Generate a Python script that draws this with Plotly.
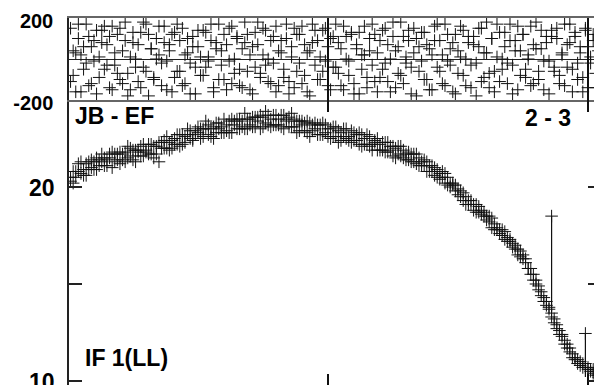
import plotly.graph_objects as go

# channel numbers (1..204) shared by both panels
channels = list(range(1, 205))

# amplitude per channel, two samples each
amplitude_a = [
    20.5, 20.2, 20.8, 21.2, 20.7, 20.9, 20.6, 21.3, 21.0, 21.3,
    20.9, 21.4, 21.7, 21.1, 21.4, 21.7, 21.0, 21.7, 21.4, 21.8,
    21.7, 21.3, 22.1, 21.6, 21.9, 21.3, 21.9, 22.1, 21.6, 21.9,
    21.7, 22.2, 21.5, 22.1, 21.3, 22.3, 22.0, 22.6, 21.9, 22.4,
    22.5, 22.2, 22.7, 22.2, 22.6, 23.0, 22.5, 22.4, 22.9, 22.8,
    22.5, 23.0, 23.4, 22.7, 23.0, 22.5, 23.3, 23.0, 22.8, 23.5,
    23.2, 22.8, 23.5, 23.2, 23.0, 23.5, 23.1, 23.8, 23.0, 23.5,
    23.1, 23.6, 23.4, 23.0, 23.6, 23.9, 23.2, 23.5, 23.2, 23.7,
    23.5, 23.1, 23.7, 23.5, 23.1, 23.8, 23.1, 22.8, 23.4, 23.2,
    22.9, 23.4, 22.6, 23.2, 23.0, 23.2, 22.7, 23.3, 22.8, 22.6,
    23.0, 22.6, 23.1, 22.3, 22.8, 23.0, 22.5, 22.6, 22.3, 22.8,
    22.4, 22.8, 22.1, 22.5, 22.7, 22.1, 22.2, 22.4, 21.9, 22.2,
    22.3, 21.8, 22.3, 21.9, 21.6, 22.0, 21.7, 22.1, 21.5, 21.7,
    21.4, 21.7, 21.3, 21.7, 21.1, 21.3, 21.4, 20.8, 21.1, 20.8,
    21.0, 20.5, 20.7, 20.5, 20.7, 20.1, 20.2, 20.2, 19.8, 19.9,
    19.5, 19.7, 19.1, 19.3, 19.1, 18.8, 19.1, 18.7, 18.8, 18.5,
    18.5, 18.2, 18.4, 17.8, 17.9, 17.8, 17.5, 17.7, 17.2, 17.2,
    17.1, 16.8, 16.8, 16.4, 16.5, 16.1, 15.8, 15.8, 15.2, 15.2,
    14.7, 14.6, 14.1, 14.1, 13.7, 13.3, 13.2, 12.7, 12.6, 12.3,
    12.1, 11.7, 11.7, 11.2, 11.1, 11.1, 10.8, 10.9, 10.7, 10.7,
    10.5, 10.6, 10.3, 10.3,
]
amplitude_b = [
    20.3, 20.8, 20.5, 20.8, 21.3, 20.6, 21.2, 20.9, 21.4, 20.9,
    21.5, 21.1, 21.3, 21.5, 21.1, 21.5, 21.8, 21.3, 21.7, 21.2,
    21.4, 21.8, 21.5, 22.0, 21.4, 21.9, 21.8, 21.6, 22.2, 21.8,
    22.2, 21.7, 22.1, 21.7, 22.3, 22.0, 22.4, 22.0, 22.3, 22.0,
    22.2, 22.7, 22.1, 22.7, 22.3, 22.7, 22.9, 22.5, 22.7, 23.1,
    23.0, 22.6, 23.0, 23.2, 22.6, 23.1, 22.8, 23.3, 23.1, 22.8,
    22.9, 23.4, 22.8, 23.4, 23.5, 23.0, 23.4, 23.0, 23.5, 23.2,
    23.6, 23.1, 23.6, 23.7, 23.1, 23.3, 23.7, 23.1, 23.7, 23.2,
    23.2, 23.7, 23.0, 23.4, 23.6, 23.1, 23.5, 23.4, 22.9, 23.4,
    23.3, 22.8, 23.3, 22.9, 23.3, 22.7, 23.2, 22.7, 23.2, 23.0,
    22.5, 23.1, 22.6, 22.9, 22.4, 22.6, 23.0, 22.4, 22.9, 22.4,
    22.7, 22.2, 22.7, 22.2, 22.2, 22.6, 21.9, 22.3, 22.5, 21.9,
    21.9, 22.3, 21.8, 22.1, 22.1, 21.5, 22.1, 21.6, 21.9, 21.4,
    21.8, 21.3, 21.7, 21.2, 21.5, 21.1, 21.1, 21.3, 20.8, 21.1,
    20.6, 20.9, 20.4, 20.8, 20.2, 20.5, 20.0, 20.1, 20.1, 19.6,
    19.8, 19.3, 19.5, 19.1, 19.3, 19.1, 18.7, 19.0, 18.6, 18.7,
    18.3, 18.5, 17.9, 18.1, 17.8, 17.6, 17.8, 17.3, 17.4, 17.3,
    16.9, 17.0, 16.5, 16.7, 16.3, 16.3, 15.8, 15.5, 15.5, 15.0,
    14.9, 14.4, 14.3, 13.9, 13.8, 13.5, 13.0, 12.9, 12.4, 12.4,
    11.9, 11.9, 11.5, 11.4, 11.2, 10.9, 11.0, 10.7, 10.9, 10.6,
    10.6, 10.4, 10.5, 10.2,
]

# two outlying amplitude points with long lower error bars
spike_channels = [186, 199]
spike_values = [18.5, 12.45]
spike_err_low = [4.9, 2.25]

# phase (degrees), two samples per channel
phase_a = [
    150, -80, 30, 170, -160, 60, -20, 110, -120, 90, -170, 10, 140, -50, 70, -140, 160,
    -30, 120, -100, 40, 180, -70, -150, 80, 0, -110, 130, -40, 170, -180, 50, -90, 100,
    20, -130, 160, -10, 70, -160, 130, -60, 90, 150, -120, 30, -20, 110, -170, 60, -80,
    140, -40, 10, 170, -140, 80, -100, 40, 120, -150, -10, 160, -70, 100, -130, 50, 180,
    -60, 20, -170, 130, 70, -90, 150, -30, 0, -120, 110, -160, 40, 90, -50, 170, -110,
    60, -140, 120, -20, 160, -80, 30, -180, 80, 140, -100, 10, -60, 150, -130, 100, -40,
    170, -70, 50, -150, 110, -10, 130, -120, 70, -170, 20, 160, -90, 40, -30, 120, -160,
    90, -50, 150, -110, 0, 180, -140, 60, -80, 110, -20, 140, -170, 30, 100, -60, 130,
    -100, 70, -150, 20, 160, -40, 90, -120, 170, -10, 50, -160, 120, -70, 10, 140, -130,
    80, -30, 110, -180, 60, 150, -90, 30, -140, 100, -60, 170, -110, 0, 130, -20, 90,
    -170, 40, 160, -80, 120, -50, 20, -130, 70, 180, -100, 50, -150, 110, -10, 140, -60,
    100, -120, 30, 170, -40, 80, -160, 130, -20, 60, -90, 150, -140, 10, 120, -70, 40,
]
phase_b = [
    -110, 40, -160, 100, 20, -50, 170, -130, 60, -10, 140, -90, 80, 160, -30, 110, -150,
    30, -70, 150, -120, 90, -180, 10, 130, -40, 70, -140, 180, -60, 120, 50, -100, 0,
    160, -20, 80, -150, 40, 120, -90, 170, -60, -130, 20, 100, -170, 60, -40, 140, 10,
    -80, 130, -10, 90, -160, 50, 170, -30, -100, 70, 150, -120, 0, 110, -50, -140, 80,
    120, -150, 60, -40, 180, -70, 20, 140, -110, 90, -20, 160, -130, 30, -90, 100, -170,
    10, 150, -60, 120, -120, 70, -160, 40, 170, -30, 90, -100, 140, -10, 60, -150, 110,
    -40, 80, -130, 160, 0, -80, 120, -170, 50, 130, -50, 20, -140, 100, 170, -110, 30,
    -90, 140, -20, 70, -160, 110, 40, -70, 180, -120, 10, 90, -40, 150, -180, 60, -10,
    130, -100, 50, -150, 90, 170, -60, 20, -130, 120, -30, 80, -170, 40, 160, -80, 0,
    110, -140, 70, -20, 150, -110, 30, 180, -70, 100, -160, 10, 130, -50, 60, -120, 170,
    -30, 90, -150, 40, 120, -90, 0, 160, -120, 50, -60, 140, -10, 80, -170, 110, -40,
    150, -80, 20, -130, 70, 170, -50, 110, -100, 30, -160, 140, 60, -20, 90, -140, 120,
]

amp_ticks = [10, 15, 20]
amp_ticktext = ["10", "", "20"]
phase_ticks = [-200, 200]
channel_ticks = [100, 200]

INK = "#111"
mark = dict(symbol="cross-thin-open", size=9, color=INK, line=dict(width=1, color=INK))
FONT = "Liberation Sans"

fig = go.Figure()

# phase panel
for ph in (phase_a, phase_b):
    fig.add_trace(go.Scatter(x=channels, y=ph, mode="markers", marker=mark,
                             xaxis="x2", yaxis="y2", showlegend=False))

# amplitude panel
for amp in (amplitude_a, amplitude_b):
    fig.add_trace(go.Scatter(x=channels, y=amp, mode="markers", marker=mark,
                             showlegend=False))
fig.add_trace(go.Scatter(
    x=spike_channels, y=spike_values, mode="markers", marker=mark, showlegend=False,
    error_y=dict(type="data", symmetric=False, array=[0, 0], arrayminus=spike_err_low,
                 width=0, thickness=1.2, color=INK),
))

split = 1 - 82 / 367

# the page body adds an 8px margin, so the figure is 8px smaller than the window
fig.update_layout(
    width=594, height=377,
    margin=dict(l=61, r=1, t=10, b=0, autoexpand=False),
    paper_bgcolor="white", plot_bgcolor="white",
    font=dict(family=FONT, color="black"),
    xaxis=dict(
        domain=[0, 1], anchor="y", range=[0.4, 205],
        tickvals=channel_ticks, showticklabels=False,
        ticks="inside", ticklen=11, tickcolor=INK, tickwidth=1.5,
        showline=False, showgrid=False, zeroline=False, automargin=False,
    ),
    xaxis2=dict(
        domain=[0, 1], anchor="y2", matches="x", side="top",
        tickvals=channel_ticks, showticklabels=False,
        ticks="inside", ticklen=94, tickcolor=INK, tickwidth=1.5,
        showline=True, mirror=True, linecolor="#666", linewidth=2,
        showgrid=False, zeroline=False, automargin=False,
    ),
    yaxis=dict(
        domain=[0, split], range=[9.794, 24.485],
        tickvals=amp_ticks, ticktext=amp_ticktext,
        ticks="inside", ticklen=13, tickcolor="#222", tickwidth=1.5,
        tickfont=dict(family=FONT, size=23, weight="bold"), ticklabelstandoff=8,
        ticklabeloverflow="allow", ticklabelshift=1,
        showline=True, mirror="ticks", linecolor="#222", linewidth=1.5,
        showgrid=False, zeroline=False, automargin=False,
    ),
    yaxis2=dict(
        domain=[split, 1], range=[-200, 200],
        tickvals=phase_ticks, ticktext=["-200", "200"],
        ticks="", tickfont=dict(family=FONT, size=20, weight="bold"),
        ticklabelstandoff=10, ticklabeloverflow="allow", ticklabelshift=3,
        showline=True, mirror=True, linecolor="#222", linewidth=1.5,
        showgrid=False, zeroline=True, zerolinecolor="#222", zerolinewidth=1.2,
        automargin=False,
    ),
)

label_font = dict(family=FONT, size=23, color="black", weight="bold")
fig.add_annotation(text="JB - EF", xref="paper", yref="paper", x=(73 - 69) / 532, y=(385 - 116) / 367,
                   xanchor="left", yanchor="middle", showarrow=False, font=label_font)
fig.add_annotation(text="2 - 3", xref="paper", yref="paper", x=(573 - 69) / 532, y=(385 - 118) / 367,
                   xanchor="right", yanchor="middle", showarrow=False, font=label_font)
fig.add_annotation(text="IF 1(LL)", xref="paper", yref="paper", x=(83 - 69) / 532, y=(385 - 358) / 367,
                   xanchor="left", yanchor="middle", showarrow=False, font=label_font)

fig.write_html("out.html")
